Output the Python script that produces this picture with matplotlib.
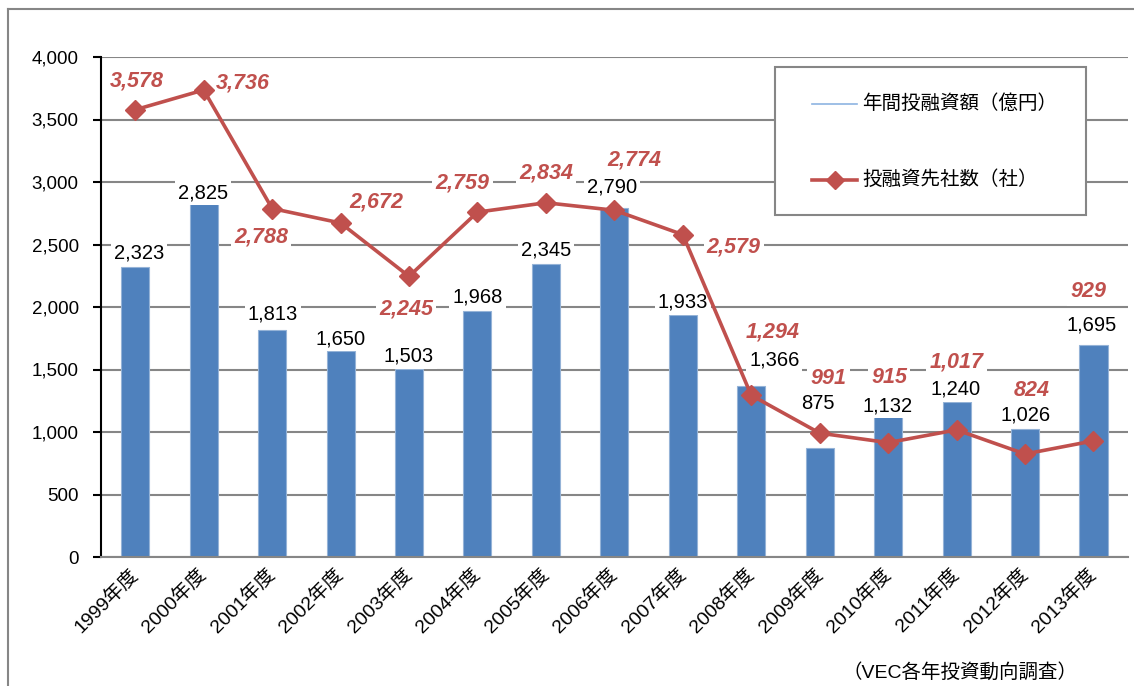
import matplotlib
matplotlib.use("Agg")
import matplotlib.pyplot as plt
from matplotlib.lines import Line2D
from matplotlib.patches import Rectangle
from matplotlib.ticker import FuncFormatter, MultipleLocator

plt.rcParams['font.family'] = ['Liberation Sans', 'Noto Sans CJK JP', 'DejaVu Sans']

# ---- data ----
years = ["1999年度", "2000年度", "2001年度", "2002年度", "2003年度", "2004年度", "2005年度",
         "2006年度", "2007年度", "2008年度", "2009年度", "2010年度", "2011年度", "2012年度", "2013年度"]
amount = [2323, 2825, 1813, 1650, 1503, 1968, 2345, 2790, 1933, 1366, 875, 1132, 1240, 1026, 1695]
companies = [3578, 3736, 2788, 2672, 2245, 2759, 2834, 2774, 2579, 1294, 991, 915, 1017, 824, 929]
legend_labels = ["年間投融資額（億円）", "投融資先社数（社）"]
source_note = "（VEC各年投資動向調査）"

# label offsets in pixels (dx, dy up)
bar_lbl_off = [(4, 14), (-1, 11), (1, 16), (0, 12), (0, 13), (0, 14), (0, 14), (-2, 21),
               (0, 13), (23, 26), (-2, 44), (-1, 10), (-1, 13), (1, 14), (-2, 20)]
line_lbl_off = [(2, 29), (39, 7), (-11, -28), (36, 21), (-3, -33), (-15, 29), (0, 30), (20, 50),
                (51, -12), (21, 63), (9, 55), (1, 65), (0, 68), (7, 64), (-5, 149)]

W, H = 1134, 686
fig = plt.figure(figsize=(W / 100, H / 100), dpi=100)
fig.patch.set_facecolor("white")

# outer chart border
fig.add_artist(Line2D([8 / W, 8 / W], [0, 1 - 9 / H], transform=fig.transFigure, color="#868686", lw=1.5))
fig.add_artist(Line2D([8 / W, 1], [1 - 9 / H, 1 - 9 / H], transform=fig.transFigure, color="#868686", lw=1.5))

ax = fig.add_axes([101 / W, 1 - 557 / H, 1026.7 / W, 500 / H])
x = list(range(len(years)))

ax.set_ylim(0, 4000)
ax.set_xlim(-0.5, len(years) - 0.5)
ax.yaxis.set_major_locator(MultipleLocator(500))
ax.yaxis.set_major_formatter(FuncFormatter(lambda v, p: f"{int(v):,}"))
ax.grid(axis="y", color="#868686", lw=1.5)
ax.set_axisbelow(True)

bars = ax.bar(x, amount, width=0.41, color="#4F81BD", edgecolor="#95B3D7", linewidth=0.8, zorder=2)

for xi, v, (dx, dy) in zip(x, amount, bar_lbl_off):
    ax.annotate(f"{v:,}", (xi, v), xytext=(dx, dy), textcoords="offset pixels",
                ha="center", va="center", fontsize=14.5, color="black", zorder=3,
                bbox=dict(boxstyle="square,pad=0.15", fc="white", ec="none"))

for xi, v, (dx, dy) in zip(x, companies, line_lbl_off):
    ax.annotate(f"{v:,}", (xi, v), xytext=(dx, dy), textcoords="offset pixels",
                ha="center", va="center", fontsize=15.5, color="#C0504D", fontweight="bold",
                fontstyle="italic", zorder=3,
                bbox=dict(boxstyle="square,pad=0.15", fc="white", ec="none"))

line, = ax.plot(x, companies, color="#C0504D", lw=2.6, marker="D", markersize=10,
                markerfacecolor="#C0504D", markeredgecolor="#C0504D", zorder=5)

for s in ["top", "right"]:
    ax.spines[s].set_visible(False)
ax.spines["left"].set_color("black")
ax.spines["left"].set_linewidth(1.5)
ax.spines["bottom"].set_color("#868686")
ax.spines["bottom"].set_linewidth(1.5)

ax.tick_params(axis="y", direction="out", length=6, width=1.5, color="black", labelsize=13.5, pad=10)
ax.tick_params(axis="x", length=0, labelsize=14, pad=6)
ax.set_xticks(x)
ax.set_xticklabels(years, rotation=45, ha="right", va="center", rotation_mode="anchor")
for t in ax.get_xticklabels():
    t.set_y(-0.012)

# legend box (drawn manually to match layout)
fig.add_artist(Rectangle((775 / W, 1 - 215 / H), 311 / W, 148 / H, transform=fig.transFigure,
                         facecolor="white", edgecolor="#868686", lw=1.5, zorder=10))
fig.add_artist(Line2D([812 / W, 857 / W], [1 - 104 / H] * 2, transform=fig.transFigure,
                      color="#8DB4E2", lw=1.2, zorder=11))
fig.add_artist(Line2D([812 / W, 857 / W], [1 - 180 / H] * 2, transform=fig.transFigure,
                      color="#C0504D", lw=2.6, zorder=11))
fig.add_artist(Line2D([834.5 / W], [1 - 180 / H], transform=fig.transFigure, color="#C0504D",
                      marker="D", markersize=9, zorder=12))
fig.text(862 / W, 1 - 104 / H, legend_labels[0], fontsize=14, va="center", ha="left", zorder=12)
fig.text(862 / W, 1 - 180 / H, legend_labels[1], fontsize=14, va="center", ha="left", zorder=12)

fig.text(1078 / W, 1 - 672 / H, source_note, fontsize=14, va="center", ha="right")

fig.savefig("out.png", dpi=100)
